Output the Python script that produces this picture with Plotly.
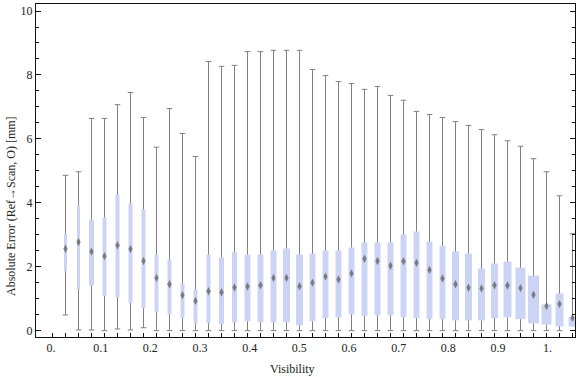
import plotly.graph_objects as go

# ---- data ----
box_index = list(range(1, 41))

whisker_low = [0.49, 0.02, 0.02, 0.00, 0.05, 0.02, 0.09, 0.00, 0.00, 0.00,
               0.00, 0.00, 0.00, 0.00, 0.00, 0.00, 0.00, 0.00, 0.00, 0.00,
               0.00, 0.00, 0.00, 0.00, 0.00, 0.00, 0.00, 0.00, 0.00, 0.00,
               0.00, 0.00, 0.00, 0.00, 0.00, 0.00, 0.00, 0.00, 0.00, 0.13]
q1 = [1.86, 1.30, 1.41, 1.08, 1.03, 0.86, 0.70, 0.57, 0.51, 0.39,
      0.23, 0.23, 0.20, 0.26, 0.29, 0.26, 0.26, 0.26, 0.17, 0.29,
      0.39, 0.42, 0.51, 0.45, 0.48, 0.48, 0.42, 0.39, 0.36, 0.36,
      0.32, 0.32, 0.32, 0.39, 0.42, 0.36, 0.23, 0.19, 0.13, 0.13]
median = [2.56, 2.77, 2.47, 2.33, 2.67, 2.55, 2.18, 1.65, 1.45, 1.11,
          0.93, 1.23, 1.20, 1.35, 1.38, 1.42, 1.65, 1.65, 1.39, 1.50,
          1.69, 1.60, 1.79, 2.25, 2.18, 2.03, 2.17, 2.12, 1.90, 1.63,
          1.45, 1.34, 1.32, 1.42, 1.41, 1.33, 1.12, 0.77, 0.83, 0.40]
q3 = [3.04, 3.92, 3.48, 3.54, 4.26, 3.98, 3.79, 2.38, 2.23, 1.47,
      1.29, 2.38, 2.29, 2.45, 2.38, 2.38, 2.51, 2.57, 2.38, 2.41,
      2.51, 2.51, 2.60, 2.76, 2.76, 2.76, 3.01, 3.10, 2.79, 2.66,
      2.48, 2.41, 1.94, 2.10, 2.16, 1.97, 1.72, 0.82, 1.16, 0.42]
whisker_high = [4.86, 4.97, 6.64, 6.64, 7.07, 7.45, 6.67, 5.74, 6.95, 6.17,
                5.45, 8.42, 8.27, 8.30, 8.73, 8.73, 8.77, 8.77, 8.77, 8.17,
                7.98, 7.79, 7.73, 7.55, 7.64, 7.36, 7.21, 6.86, 6.76, 6.67,
                6.54, 6.42, 6.29, 6.13, 5.94, 5.77, 5.38, 4.97, 4.22, 3.03]

x_tick_values = [0.0, 0.1, 0.2, 0.3, 0.4, 0.5, 0.6, 0.7, 0.8, 0.9, 1.0]
x_tick_labels = ["0.", "0.1", "0.2", "0.3", "0.4", "0.5", "0.6", "0.7", "0.8", "0.9", "1."]
y_tick_values = [0, 2, 4, 6, 8, 10]

# ---- styles ----
box_px = [3, 3, 5, 4, 4, 4, 4, 4, 4, 4,
          4, 4, 5, 5, 6, 6, 6, 7, 7, 6,
          6, 6, 6, 6, 6, 6, 6, 6, 6, 6,
          7, 7, 7, 7, 8, 10, 11, 10, 8, 8]
X_MIN, X_MAX = -1.269, 40.192
LABEL_OFFSET, LABEL_SCALE = -0.115, 38.2   # where the visibility labels sit on the box index axis
BOX_FILL = "rgb(204,212,245)"
GRAY = "rgb(128,128,128)"
FONT = "Liberation Serif, Times New Roman, serif"


def segments(xs, lows, highs):
    sx, sy = [], []
    for x, a, b in zip(xs, lows, highs):
        sx += [x, x, None]
        sy += [a, b, None]
    return sx, sy


fig = go.Figure()

# whiskers (drawn first so the boxes cover them)
wx, wy = segments(box_index, whisker_low, whisker_high)
fig.add_trace(go.Scatter(x=wx, y=wy, mode="lines",
                         line=dict(color=GRAY, width=1),
                         hoverinfo="skip", showlegend=False))

# whisker caps
cap_x = [k for k, lo, a in zip(box_index, whisker_low, q1) if lo < a] + box_index
cap_y = [lo for lo, a in zip(whisker_low, q1) if lo < a] + whisker_high
fig.add_trace(go.Scatter(
    x=cap_x, y=cap_y, mode="markers",
    marker=dict(symbol="line-ew", size=4, line=dict(color=GRAY, width=1)),
    hoverinfo="skip", showlegend=False))

# boxes: thick line segments, one trace per box width
for w in sorted(set(box_px)):
    idx = [i for i, p in enumerate(box_px) if p == w]
    bx, by = segments([box_index[i] for i in idx], [q1[i] for i in idx], [q3[i] for i in idx])
    fig.add_trace(go.Scatter(x=bx, y=by, mode="lines",
                             line=dict(color=BOX_FILL, width=w),
                             hoverinfo="skip", showlegend=False))

# medians
fig.add_trace(go.Scatter(
    x=box_index, y=median, mode="markers",
    marker=dict(symbol="diamond-tall", size=6, color="rgba(100,100,100,0.8)",
                line=dict(width=0)),
    showlegend=False))

fig.update_layout(
    width=576, height=377,
    margin=dict(l=36, r=1, t=4, b=40),
    paper_bgcolor="white", plot_bgcolor="white",
    font=dict(family=FONT, size=12, color="#222"),
    xaxis=dict(
        range=[X_MIN, X_MAX], showgrid=False, zeroline=False,
        showline=True, linecolor="#111", linewidth=1, mirror=True,
        tickmode="array",
        tickvals=[LABEL_OFFSET + LABEL_SCALE * v for v in x_tick_values],
        ticktext=x_tick_labels, ticks="",
        tickfont=dict(family=FONT, size=12, color="#222"),
        minor=dict(tickmode="array", tickvals=list(range(0, 41)),
                   ticks="inside", ticklen=4, tickcolor="#111", showgrid=False),
    ),
    yaxis=dict(
        range=[-0.2, 10.22], showgrid=False, zeroline=False,
        showline=True, linecolor="#111", linewidth=1, mirror="ticks",
        tickmode="array", tickvals=y_tick_values,
        ticks="inside", ticklen=5, tickcolor="#111",
        tickfont=dict(family=FONT, size=12, color="#222"),
        minor=dict(dtick=0.5, tick0=0, ticks="inside", ticklen=3,
                   tickcolor="#111", showgrid=False),
    ),
    annotations=[
        dict(text="Visibility", xref="paper", yref="paper",
             x=(292 - 36) / 539, y=-(369 - 337) / 333, xanchor="center",
             yanchor="middle", showarrow=False,
             font=dict(family=FONT, size=12, color="#222")),
        dict(text="Absolute Error (Ref\u2192Scan, O) [mm]", xref="paper", yref="paper",
             x=-(36 - 11) / 539, y=(337 - 206) / 333, xanchor="center", yanchor="middle",
             textangle=-90, showarrow=False,
             font=dict(family=FONT, size=12, color="#222")),
    ],
)

fig.write_html("out.html",
               config={"displayModeBar": False, "staticPlot": True},
               post_script="document.body.style.margin='0';document.body.style.overflow='hidden';")
